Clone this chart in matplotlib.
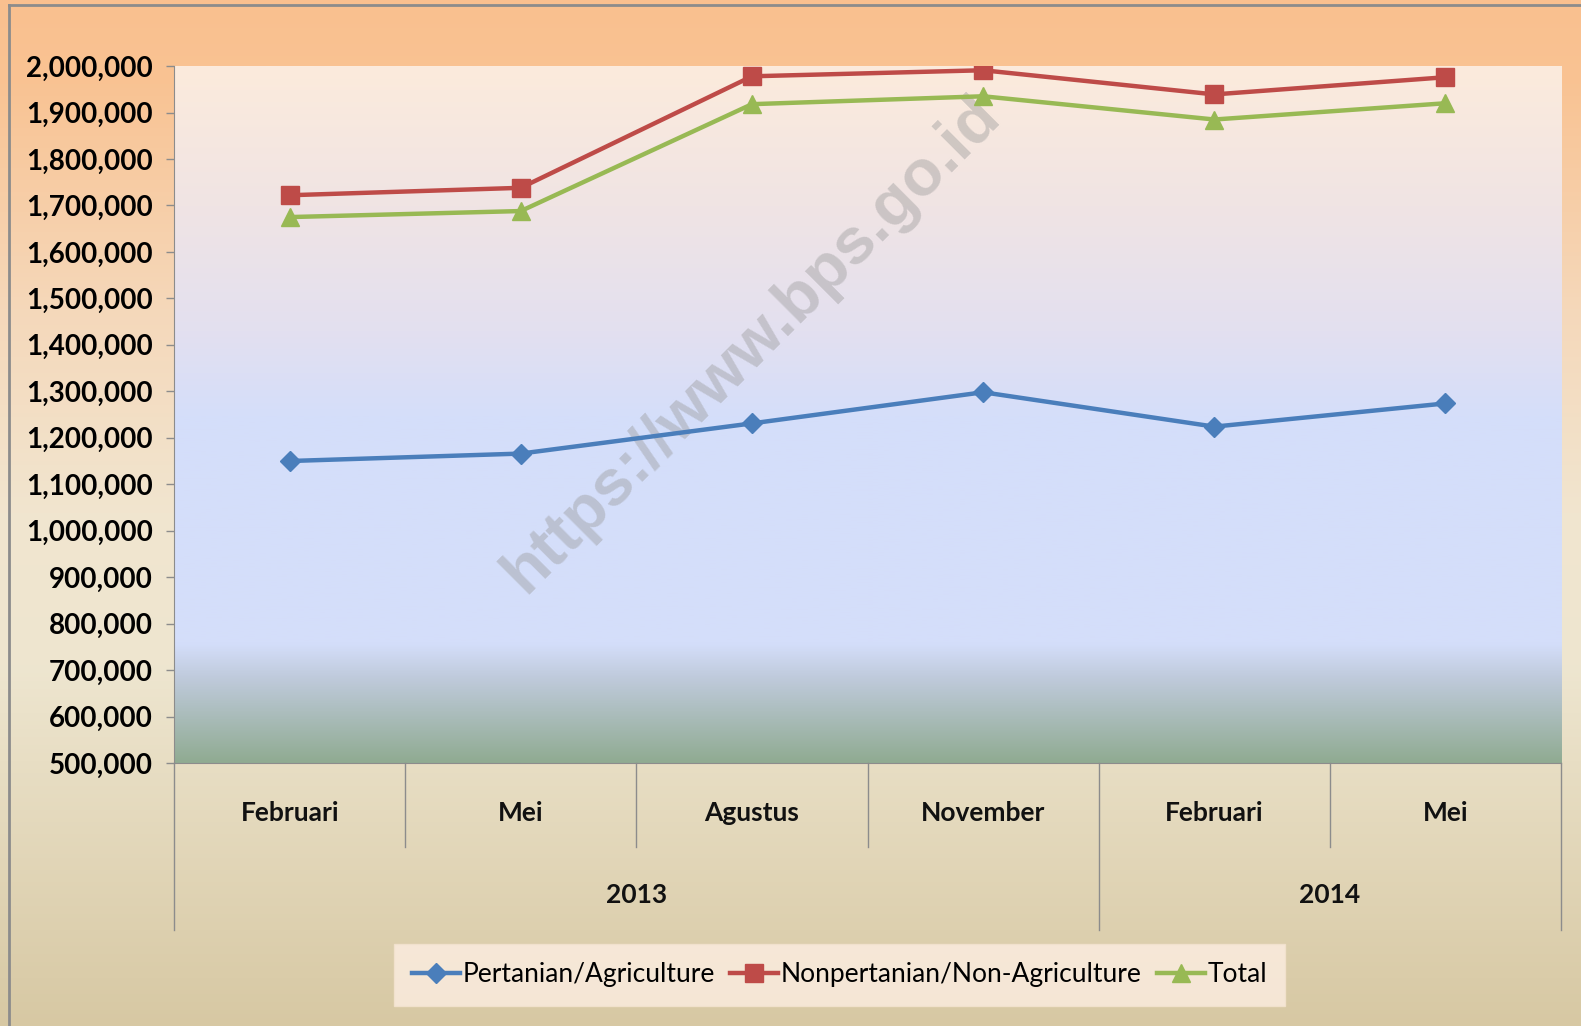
import numpy as np
import matplotlib
matplotlib.use("Agg")
import matplotlib.pyplot as plt
from matplotlib.colors import LinearSegmentedColormap
from matplotlib.lines import Line2D
from matplotlib.ticker import FuncFormatter

# data
bulan = ["Februari", "Mei", "Agustus", "November", "Februari", "Mei"]
tahun = ["2013", "2014"]
jumlah_bulan = [4, 2]

pertanian = [1150000, 1166000, 1231000, 1298000, 1224000, 1274000]
nonpertanian = [1722000, 1738000, 1978000, 1991000, 1939000, 1976000]
total = [1675000, 1688000, 1918000, 1935000, 1885000, 1920000]

plt.rcParams["font.family"] = ["Lato", "DejaVu Sans"]

fig = plt.figure(figsize=(15.81, 10.26), dpi=100)

# outer background gradient
bg = fig.add_axes([0, 0, 1, 1], zorder=-10)
cm_bg = LinearSegmentedColormap.from_list("bg", [
    (0.0, "#FAC08F"), (0.08, "#F9C393"), (0.30, "#F5D8BA"),
    (0.50, "#F1E5CF"), (0.65, "#EEE6D0"), (1.0, "#D7C8A3")])
bg.imshow(np.linspace(0, 1, 256).reshape(-1, 1), cmap=cm_bg, aspect="auto",
          extent=[0, 1, 0, 1], origin="upper")
bg.set_axis_off()
fig.add_artist(Line2D([0.0058, 0.0058], [0, 0.995], color="#8C8C8C", lw=2))
fig.add_artist(Line2D([0.0058, 1], [0.995, 0.995], color="#8C8C8C", lw=2))

ax = fig.add_axes([0.1101, 0.2563, 0.8773, 0.6793])
ax.set_facecolor("none")
x = np.arange(len(bulan))

cm_plot = LinearSegmentedColormap.from_list("plot", [
    (0.0, "#FCEBDC"), (0.20, "#F0E4E4"), (0.38, "#E3E0F0"), (0.50, "#D5DEFA"),
    (0.83, "#D4DEFA"), (0.88, "#BFCADB"), (1.0, "#90AB92")])
ax.imshow(np.linspace(0, 1, 256).reshape(-1, 1), cmap=cm_plot, aspect="auto",
          extent=[-0.5, 5.5, 500000, 2000000], origin="upper", zorder=0)

ax.text(2.0, 1400000, "https://www.bps.go.id", rotation=45, ha="center",
        va="center", fontsize=47, fontweight="bold", color="#9A9A9A",
        alpha=0.42, family="Liberation Sans", zorder=1)

ax.plot(x, pertanian, color="#4A7EBB", lw=3.2, marker="D", ms=10,
        label="Pertanian/Agriculture", zorder=3)
ax.plot(x, nonpertanian, color="#BE4B48", lw=3.2, marker="s", ms=13,
        label="Nonpertanian/Non-Agriculture", zorder=3)
ax.plot(x, total, color="#98B954", lw=3.2, marker="^", ms=13,
        label="Total", zorder=3)

ax.set_xlim(-0.5, 5.5)
ax.set_ylim(500000, 2000000)
ax.set_yticks(np.arange(500000, 2000001, 100000))
ax.yaxis.set_major_formatter(FuncFormatter(lambda v, p: f"{int(v):,}"))
ax.tick_params(axis="y", direction="out", length=6, width=1, color="#8C8C8C",
               labelsize=20, pad=9)
for t in ax.get_yticklabels():
    t.set_fontweight("bold")
ax.set_xticks([])
for s in ["top", "right"]:
    ax.spines[s].set_visible(False)
ax.spines["left"].set_color("#8C8C8C")
ax.spines["bottom"].set_color("#8C8C8C")

# two-level category axis
trans = ax.get_xaxis_transform()
for i, b in enumerate(bulan):
    ax.text(i, -0.072, b, transform=trans, ha="center", va="center",
            fontsize=19, fontweight="bold", color="#111111")
inner = np.arange(len(bulan) + 1) - 0.5
batas = np.concatenate([[0], np.cumsum(jumlah_bulan)]) - 0.5
for xb in inner:
    bawah = -0.24 if xb in batas else -0.12
    ax.plot([xb, xb], [0, bawah], transform=trans, color="#8C8C8C", lw=1,
            clip_on=False)
for j, th in enumerate(tahun):
    tengah = (batas[j] + batas[j + 1]) / 2
    ax.text(tengah, -0.189, th, transform=trans, ha="center", va="center",
            fontsize=19, fontweight="bold", color="#111111")

leg = fig.legend(loc="center", bbox_to_anchor=(0.531, 0.05), ncol=3,
                 fontsize=19, frameon=True, fancybox=False, shadow=False,
                 handlelength=1.8, handletextpad=0.1, columnspacing=0.6,
                 borderpad=0.7)
leg.get_frame().set_facecolor("#FDEEE2")
leg.get_frame().set_edgecolor("#F4E4D0")

fig.savefig("out.png", dpi=100)
